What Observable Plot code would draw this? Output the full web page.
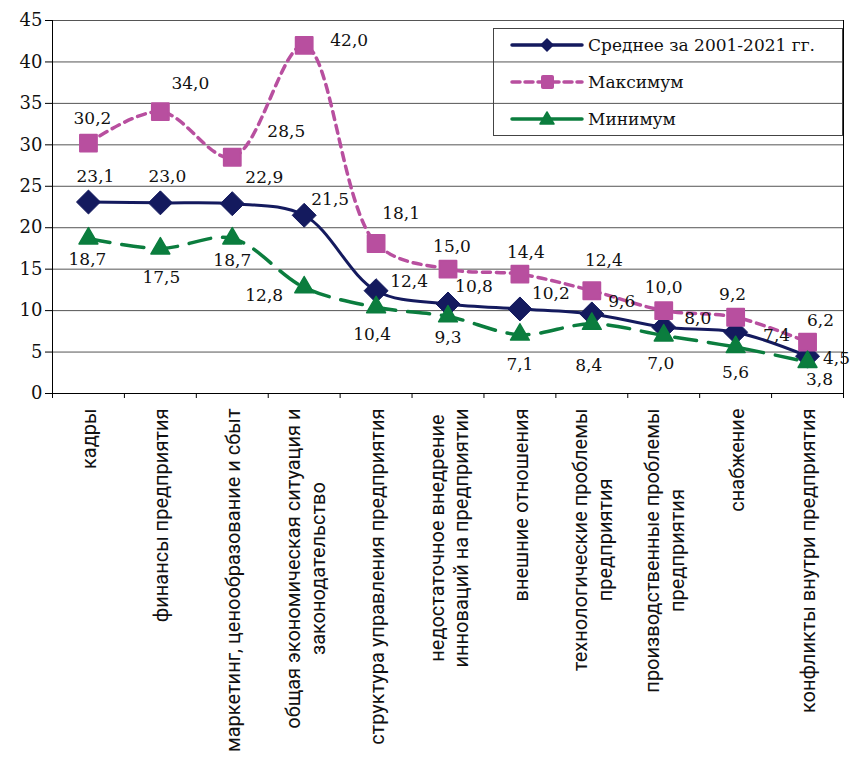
<!DOCTYPE html>
<html>
<head>
<meta charset="utf-8">
<script src="https://cdn.jsdelivr.net/npm/d3@7"></script>
<script src="https://cdn.jsdelivr.net/npm/@observablehq/plot@0.6"></script>
<style>
  html, body { margin: 0; padding: 0; background: #fff; }
  #wrap { position: relative; width: 851px; height: 757px; overflow: hidden; }
  #legend { position: absolute; left: 0; top: 0; }
</style>
</head>
<body>
<div id="wrap"></div>
<script>
// ---- data ----
const categories = [
  "кадры",
  "финансы предприятия",
  "маркетинг, ценообразование и сбыт",
  "общая экономическая ситуация и\nзаконодательство",
  "структура управления предприятия",
  "недостаточное внедрение\nинноваций на предприятии",
  "внешние отношения",
  "технологические проблемы\nпредприятия",
  "производственные проблемы\nпредприятия",
  "снабжение",
  "конфликты внутри предприятия"
];
const avgValues = [23.1, 23.0, 22.9, 21.5, 12.4, 10.8, 10.2, 9.6, 8.0, 7.4, 4.5];
const maxValues = [30.2, 34.0, 28.5, 42.0, 18.1, 15.0, 14.4, 12.4, 10.0, 9.2, 6.2];
const minValues = [18.7, 17.5, 18.7, 12.8, 10.4, 9.3, 7.1, 8.4, 7.0, 5.6, 3.8];
const seriesNames = ["Среднее за 2001-2021 гг.", "Максимум", "Минимум"];
const yTicks = [0, 5, 10, 15, 20, 25, 30, 35, 40, 45];

// ---- label placement (pixel offsets from point) ----
const avgLabelOffsets = [[7,-25],[7,-26],[32,-26],[26,-16],[33,-9],[26,-17],[31,-15],[30,-12],[34,-9],[41,3],[29,2]];
const maxLabelOffsets = [[4,-25],[30,-28],[54,-26],[45,-5],[25,-30],[4,-23],[6,-22],[12,-30],[0,-23],[-3,-23],[13,-22]];
const minLabelOffsets = [[-1,21],[1,29],[0,22],[-40,8],[-4,27],[0,21],[0,30],[-3,42],[-3,28],[0,25],[12,18]];

// ---- styles ----
const navy = "#141a5e", pink = "#b84f9f", green = "#0b7d3e";
const serif = "DejaVu Serif";
const catFont = "Roboto", catSize = 20;

const rows = categories.map((c, i) => ({i, avg: avgValues[i], max: maxValues[i], min: minValues[i]}));
const xDomain = [-0.5, categories.length - 0.5];
const boundaries = d3.range(categories.length + 1).map(i => i - 0.5);
const fmt = v => v.toFixed(1).replace(".", ",");

// measure category label lines
const ctx = document.createElement("canvas").getContext("2d");
ctx.font = `${catSize}px ${catFont}`;
const maxLineWidth = s => d3.max(s.split("\n"), l => ctx.measureText(l).width);

function labelMarks(key, offsets) {
  return rows.map((d, i) => Plot.text([d], {
    x: "i", y: key, text: r => fmt(r[key]),
    dx: offsets[i][0], dy: offsets[i][1],
    fontFamily: serif, fontSize: 17, fill: "#111", textAnchor: "middle", lineAnchor: "middle"
  }));
}

const catMarks = categories.map((c, i) => Plot.text([i], {
  x: d => d, frameAnchor: "bottom", text: () => c,
  rotate: -90, textAnchor: "middle", lineAnchor: "middle",
  dy: 15 + maxLineWidth(c) / 2, lineHeight: 1.24,
  fontFamily: catFont, fontSize: catSize, fill: "#111"
}));

const chart = Plot.plot({
  width: 851, height: 757,
  marginLeft: 52, marginRight: 8, marginTop: 20, marginBottom: 364,
  style: {fontFamily: serif, fontSize: "17px", background: "white", overflow: "visible"},
  x: {type: "linear", domain: xDomain, axis: null},
  y: {domain: [0, 45], axis: null},
  marks: [
    Plot.gridY(yTicks, {stroke: "#555", strokeOpacity: 1, strokeWidth: 1}),
    Plot.axisY(yTicks, {tickSize: 7, tickPadding: 3, fontSize: 18, fontFamily: serif, label: null, stroke: "#000", fill: "#111"}),
    Plot.axisX(boundaries, {tickSize: 5, tickFormat: () => "", label: null, stroke: "#000"}),
    Plot.ruleX(xDomain, {stroke: "#000"}),
    Plot.ruleY([0], {stroke: "#000"}),
    Plot.line(rows, {x: "i", y: "avg", curve: "catmull-rom", stroke: navy, strokeWidth: 3}),
    Plot.dot(rows, {x: "i", y: "avg", symbol: "diamond2", r: 10.8, fill: navy, stroke: navy, strokeWidth: 1}),
    Plot.line(rows, {x: "i", y: "max", curve: "catmull-rom", stroke: pink, strokeWidth: 3.5, strokeDasharray: "8,6"}),
    Plot.dot(rows, {x: "i", y: "max", symbol: "square", r: 9.5, fill: pink, stroke: pink, strokeWidth: 2, strokeLinejoin: "round"}),
    Plot.line(rows, {x: "i", y: "min", curve: "catmull-rom", stroke: green, strokeWidth: 3.5, strokeDasharray: "22,12"}),
    Plot.dot(rows, {x: "i", y: "min", symbol: "triangle", r: 7, fill: green, stroke: green, strokeWidth: 1.5, strokeLinejoin: "round"}),
    ...labelMarks("avg", avgLabelOffsets),
    ...labelMarks("max", maxLabelOffsets),
    ...labelMarks("min", minLabelOffsets),
    ...catMarks
  ]
});

const wrap = document.getElementById("wrap");
wrap.appendChild(chart);

// ---- legend (overlay box inside plot area) ----
const ns = "http://www.w3.org/2000/svg";
const lg = document.createElementNS(ns, "svg");
lg.setAttribute("id", "legend");
lg.setAttribute("width", 851);
lg.setAttribute("height", 757);
const box = {x: 493.5, y: 28.5, w: 349, h: 107};
const rowY = [45, 82, 119];
const colors = [navy, pink, green];
const dashes = [null, "8,5", null];
let html = `<rect x="${box.x}" y="${box.y}" width="${box.w}" height="${box.h}" fill="none" stroke="#444" stroke-width="1"/>`;
seriesNames.forEach((name, k) => {
  const y = rowY[k], c = colors[k];
  html += `<line x1="512" x2="582" y1="${y}" y2="${y}" stroke="${c}" stroke-width="3.5" ${dashes[k] ? `stroke-dasharray="${dashes[k]}"` : ""} stroke-linecap="round"/>`;
  if (k === 0) html += `<path d="M547,${y-7}L554,${y}L547,${y+7}L540,${y}Z" fill="${c}"/>`;
  if (k === 1) html += `<rect x="541" y="${y-7}" width="13" height="14" rx="2" fill="${c}"/>`;
  if (k === 2) html += `<path d="M547,${y-7}L554,${y+5}L540,${y+5}Z" fill="${c}" stroke="${c}" stroke-width="1.5" stroke-linejoin="round"/>`;
  html += `<text x="588" y="${y}" dy="0.35em" font-family="${serif}" font-size="17" fill="#111">${name}</text>`;
});
lg.innerHTML = html;
wrap.appendChild(lg);
</script>
</body>
</html>
